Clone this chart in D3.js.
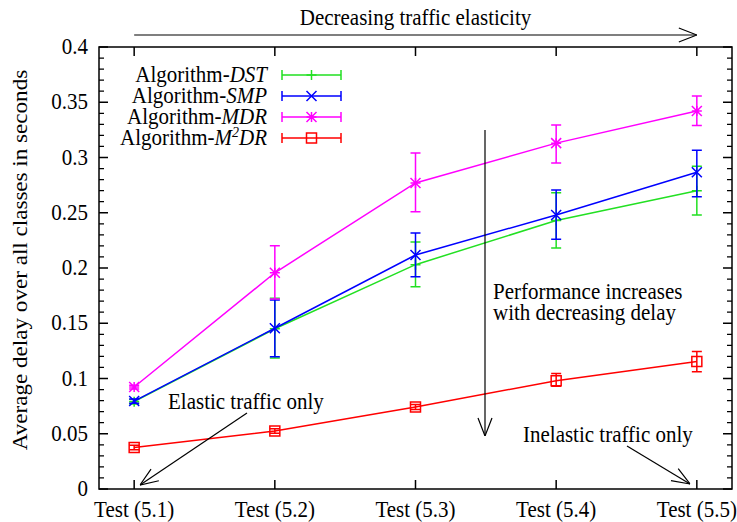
<!DOCTYPE html>
<html>
<head>
<meta charset="utf-8">
<script src="https://cdn.jsdelivr.net/npm/d3@7"></script>
<style>
  html, body { margin: 0; padding: 0; background: #fff; }
  svg text { font-family: "Liberation Serif", "DejaVu Serif", serif; fill: #000; font-size: 21px; }
</style>
</head>
<body>
<div id="chart"></div>
<script>
// Data
const tests = ["Test (5.1)", "Test (5.2)", "Test (5.3)", "Test (5.4)", "Test (5.5)"];
const testIndex = [1, 2, 3, 4, 5];
const yTicks = [0, 0.05, 0.1, 0.15, 0.2, 0.25, 0.3, 0.35, 0.4];

const dstMean = [0.079, 0.145, 0.203, 0.243, 0.270];
const dstLow  = [0.077, 0.1186, 0.183, 0.218, 0.248];
const dstHigh = [0.081, 0.1727, 0.2235, 0.268, 0.292];

const smpMean = [0.0796, 0.1455, 0.2118, 0.248, 0.2867];
const smpLow  = [0.0775, 0.1197, 0.192, 0.226, 0.2644];
const smpHigh = [0.0815, 0.171, 0.2317, 0.2706, 0.3066];

const mdrMean = [0.0923, 0.1957, 0.277, 0.313, 0.342];
const mdrLow  = [0.0905, 0.172, 0.251, 0.295, 0.329];
const mdrHigh = [0.094, 0.2202, 0.304, 0.3294, 0.3557];

const m2drMean = [0.0375, 0.0525, 0.0742, 0.098, 0.1154];
const m2drLow  = [0.0355, 0.0505, 0.072, 0.093, 0.106];
const m2drHigh = [0.0395, 0.0545, 0.0765, 0.1045, 0.1244];

const seriesList = [
    { name: "DST", sup: false, marker: "plus", color: "#22e022", mean: dstMean, low: dstLow, high: dstHigh },
    { name: "SMP", sup: false, marker: "cross", color: "#0000ff", mean: smpMean, low: smpLow, high: smpHigh },
    { name: "MDR", sup: false, marker: "star", color: "#ff00ff", mean: mdrMean, low: mdrLow, high: mdrHigh },
    { name: "M2DR", sup: true, marker: "square", color: "#ff0000", mean: m2drMean, low: m2drLow, high: m2drHigh }
];

// Space
const W = 737, H = 522;
const margin = { top: 47, right: 5, bottom: 33, left: 99 };
const width = W - margin.left - margin.right,
      height = H - margin.top - margin.bottom;
const stretch = 1.1; // the reference glyphs are a little taller than wide

const svg = d3.select("#chart").append("svg")
    .attr("width", W)
    .attr("height", H);

const g = svg.append("g")
    .attr("transform", `translate(${margin.left},${margin.top})`);

const x = d3.scaleLinear().domain([0.75, 5.25]).range([0, width]);
const y = d3.scaleLinear().domain([0, 0.4]).range([height, 0]);

// text placed at (px, py) with a vertical stretch
function putText(parent, px, py, anchor) {
    return parent.append("text")
        .attr("transform", `translate(${px},${py}) scale(1,${stretch})`)
        .attr("text-anchor", anchor || "start");
}

const defs = svg.append("defs");
defs.append("marker")
    .attr("id", "vhead")
    .attr("viewBox", "0 0 20 20")
    .attr("refX", 20).attr("refY", 10)
    .attr("markerWidth", 20).attr("markerHeight", 20)
    .attr("markerUnits", "userSpaceOnUse")
    .attr("orient", "auto")
    .append("path")
    .attr("d", "M2,3 L20,10 L2,17")
    .attr("fill", "none")
    .attr("stroke", "#000")
    .attr("stroke-width", 1.2);

// Frame with inward ticks on all sides
g.append("rect")
    .attr("x", 0).attr("y", 0)
    .attr("width", width).attr("height", height)
    .attr("fill", "none").attr("stroke", "#000").attr("stroke-width", 1.5);

const minorY = d3.range(0, 0.4001, 0.01).filter(v => Math.abs(v * 20 - Math.round(v * 20)) > 1e-6);

g.selectAll(".ymaj").data(yTicks).join("path")
    .attr("d", d => `M0,${y(d)}h9M${width},${y(d)}h-9`)
    .attr("stroke", "#000").attr("stroke-width", 1.5);
g.selectAll(".ymin").data(minorY).join("path")
    .attr("d", d => `M0,${y(d)}h5M${width},${y(d)}h-5`)
    .attr("stroke", "#000").attr("stroke-width", 1.2);
g.selectAll(".xmaj").data(testIndex).join("path")
    .attr("d", d => `M${x(d)},${height}v-9M${x(d)},0v9`)
    .attr("stroke", "#000").attr("stroke-width", 1.5);

yTicks.forEach(v => {
    putText(g, -11, y(v) + 7, "end").text(d3.format("~g")(v));
});

testIndex.forEach((t, i) => {
    putText(g, x(t), height + 28, "middle").text(tests[i]);
});

svg.append("text")
    .attr("transform", `translate(27, ${margin.top + height / 2 - 8}) rotate(-90) scale(${stretch},1)`)
    .attr("text-anchor", "middle")
    .text("Average delay over all classes in seconds");

// Series: lines, error bars, markers
function drawMarker(sel, type, color) {
    const s = 5;
    let d;
    if (type === "plus") d = `M${-s},0H${s}M0,${-s}V${s}`;
    if (type === "cross") d = `M${-s},${-s}L${s},${s}M${-s},${s}L${s},${-s}`;
    if (type === "star") d = `M${-s},0H${s}M0,${-s}V${s}M${-s},${-s}L${s},${s}M${-s},${s}L${s},${-s}`;
    if (type === "square") d = `M${-s},${-s}H${s}V${s}H${-s}Z`;
    sel.append("path").attr("d", d)
        .attr("fill", "none").attr("stroke", color).attr("stroke-width", 1.5);
}

const line = d3.line().x(p => x(p[0])).y(p => y(p[1]));

seriesList.forEach(s => {
    const sg = g.append("g");
    sg.append("path")
        .attr("d", line(testIndex.map((t, i) => [t, s.mean[i]])))
        .attr("fill", "none").attr("stroke", s.color).attr("stroke-width", 1.5);
    sg.selectAll(".err").data(testIndex).join("path")
        .attr("d", (t, i) => `M${x(t)},${y(s.low[i])}V${y(s.high[i])}` +
            `M${x(t) - 5},${y(s.low[i])}h10M${x(t) - 5},${y(s.high[i])}h10`)
        .attr("fill", "none").attr("stroke", s.color).attr("stroke-width", 1.5);
    testIndex.forEach((t, i) => {
        const mg = sg.append("g").attr("transform", `translate(${x(t)},${y(s.mean[i])})`);
        drawMarker(mg, s.marker, s.color);
    });
});

// Legend
const legend = svg.append("g").attr("transform", "translate(0, 75)");
seriesList.forEach((s, i) => {
    const row = legend.append("g").attr("transform", `translate(0, ${i * 21})`);
    const label = putText(row, 267, 7, "end");
    label.append("tspan").text("Algorithm-");
    if (s.sup) {
        label.append("tspan").style("font-style", "italic").text("M");
        label.append("tspan").style("font-style", "italic").style("font-size", "14px")
            .attr("dy", "-0.5em").text("2");
        label.append("tspan").style("font-style", "italic").attr("dy", "0.34em").text("DR");
    } else {
        label.append("tspan").style("font-style", "italic").text(s.name);
    }
    row.append("path")
        .attr("d", "M282,0H341M282,-5v10M341,-5v10")
        .attr("fill", "none").attr("stroke", s.color).attr("stroke-width", 1.5);
    const mg = row.append("g").attr("transform", "translate(311.5,0)");
    drawMarker(mg, s.marker, s.color);
});

// Annotations
putText(svg, x(3) + margin.left, 25, "middle").text("Decreasing traffic elasticity");
svg.append("line")
    .attr("x1", x(1) + margin.left).attr("y1", 35)
    .attr("x2", x(5) + margin.left).attr("y2", 35)
    .attr("stroke", "#000").attr("stroke-width", 1.2)
    .attr("marker-end", "url(#vhead)");

svg.append("line")
    .attr("x1", 485).attr("y1", 130)
    .attr("x2", 485).attr("y2", 436)
    .attr("stroke", "#000").attr("stroke-width", 1.2)
    .attr("marker-end", "url(#vhead)");
putText(svg, 493, 299).text("Performance increases");
putText(svg, 493, 320).text("with decreasing delay");

putText(svg, 168, 409).text("Elastic traffic only");
svg.append("line")
    .attr("x1", 247).attr("y1", 413)
    .attr("x2", 140).attr("y2", 485)
    .attr("stroke", "#000").attr("stroke-width", 1.2)
    .attr("marker-end", "url(#vhead)");

putText(svg, 523, 442).text("Inelastic traffic only");
svg.append("line")
    .attr("x1", 627).attr("y1", 446)
    .attr("x2", 690).attr("y2", 484)
    .attr("stroke", "#000").attr("stroke-width", 1.2)
    .attr("marker-end", "url(#vhead)");
</script>
</body>
</html>
